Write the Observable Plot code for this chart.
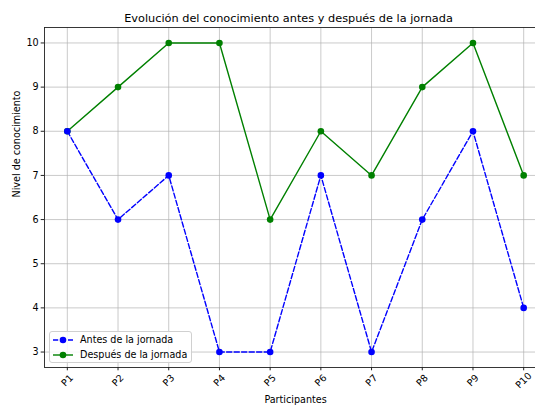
<!DOCTYPE html>
<html>
<head>
<meta charset="utf-8">
<script src="https://cdn.jsdelivr.net/npm/d3@7"></script>
<script src="https://cdn.jsdelivr.net/npm/@observablehq/plot@0.6"></script>
<style>
  body { margin: 0; background: white; }
  #wrap { position: relative; width: 535px; height: 406px; overflow: hidden; font-family: "DejaVu Sans", sans-serif; }
  #legend { position: absolute; left: 49px; top: 331px; width: 141px; height: 30px; border: 1px solid #d0d0d0; border-radius: 3px; background: rgba(255,255,255,0.85); font-size: 9.6px; color: #000; }
  #legend .row { position: absolute; left: 0; height: 15px; display: flex; align-items: center; }
  #legend svg { margin-left: 2px; margin-right: 6px; }
</style>
</head>
<body>
<div id="wrap"></div>
<script>
const participants = ["P1", "P2", "P3", "P4", "P5", "P6", "P7", "P8", "P9", "P10"];
const antes = [8, 6, 7, 3, 3, 7, 3, 6, 8, 4];
const despues = [8, 9, 10, 10, 6, 8, 7, 9, 10, 7];
const yTicks = [3, 4, 5, 6, 7, 8, 9, 10];
const seriesNames = ["Antes de la jornada", "Después de la jornada"];
const seriesColors = ["#0000ff", "#008000"];
const titleText = "Evolución del conocimiento antes y después de la jornada";
const xLabel = "Participantes";
const yLabel = "Nivel de conocimiento";

const dataAntes = participants.map((p, i) => ({p, v: antes[i]}));
const dataDespues = participants.map((p, i) => ({p, v: despues[i]}));

const chart = Plot.plot({
  width: 535,
  height: 406,
  marginLeft: 44,
  marginRight: -11,
  marginTop: 27,
  marginBottom: 39,
  style: {fontFamily: "DejaVu Sans", fontSize: "9.6px", color: "#000", background: "white", overflow: "hidden"},
  x: {type: "point", domain: participants, padding: 0.45, round: false, label: null, axis: null},
  y: {domain: [2.65, 10.35], label: null, axis: null},
  marks: [
    Plot.gridX(participants, {stroke: "#b0b0b0", strokeOpacity: 0.85, strokeWidth: 0.8}),
    Plot.gridY(yTicks, {stroke: "#b0b0b0", strokeOpacity: 0.85, strokeWidth: 0.8}),
    Plot.line(dataDespues, {x: "p", y: "v", stroke: seriesColors[1], strokeWidth: 1.4}),
    Plot.dot(dataDespues, {x: "p", y: "v", fill: seriesColors[1], r: 3.3}),
    Plot.line(dataAntes, {x: "p", y: "v", stroke: seriesColors[0], strokeWidth: 1.4, strokeDasharray: "5.2,2.3"}),
    Plot.dot(dataAntes, {x: "p", y: "v", fill: seriesColors[0], r: 3.3}),
    Plot.frame({stroke: "#222", strokeWidth: 0.9}),
    Plot.axisY(yTicks, {tickSize: 3.3, tickPadding: 2.5, label: null, stroke: "#222", fill: "#000"}),
    Plot.axisX(participants, {tickSize: 3.3, tickFormat: () => "", label: null, stroke: "#222"}),
    Plot.text(participants, {x: d => d, text: d => d, frameAnchor: "bottom", dy: 13, rotate: -45, textAnchor: "middle", lineAnchor: "middle", fill: "#000"}),
    Plot.text([titleText], {frameAnchor: "top", dy: -9.5, dx: -7, fontSize: 11.3, lineAnchor: "middle", fill: "#000"}),
    Plot.text([xLabel], {frameAnchor: "bottom", dy: 32.5, lineAnchor: "middle", fill: "#000"}),
    Plot.text([yLabel], {frameAnchor: "left", dx: -28, rotate: -90, lineAnchor: "middle", fill: "#000"})
  ]
});

const wrap = document.getElementById("wrap");
wrap.appendChild(chart);

// Legend
const legend = document.createElement("div");
legend.id = "legend";
seriesNames.forEach((name, i) => {
  const row = document.createElement("div");
  row.className = "row";
  row.style.top = (i * 15) + "px";
  const dash = i === 0 ? 'stroke-dasharray="5.2,2.3"' : "";
  row.innerHTML = `<svg width="22" height="10"><line x1="1" y1="5" x2="21" y2="5" stroke="${seriesColors[i]}" stroke-width="1.4" ${dash}/><circle cx="11" cy="5" r="3.3" fill="${seriesColors[i]}"/></svg><span>${name}</span>`;
  legend.appendChild(row);
});
wrap.appendChild(legend);
</script>
</body>
</html>
